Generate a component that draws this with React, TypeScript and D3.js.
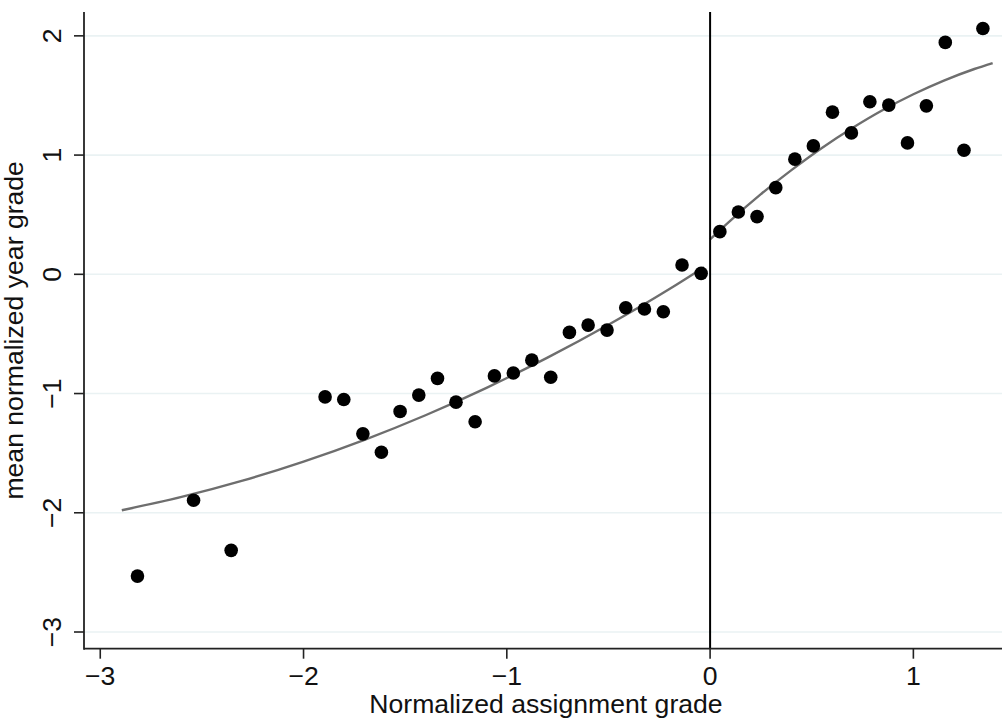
import React from 'react';
import * as d3 from 'd3';

// binned means (x = normalized assignment grade, y = mean normalized year grade)
const binX = [
  -2.817, -2.541, -2.356, -1.894, -1.802, -1.708, -1.617, -1.525, -1.433, -1.341,
  -1.25, -1.156, -1.061, -0.968, -0.877, -0.784, -0.692, -0.6, -0.507, -0.415,
  -0.323, -0.23, -0.138, -0.044, 0.048, 0.139, 0.231, 0.323, 0.417, 0.508,
  0.602, 0.695, 0.786, 0.879, 0.971, 1.064, 1.157, 1.249, 1.342,
];
const binY = [
  -2.531, -1.895, -2.315, -1.028, -1.05, -1.338, -1.492, -1.15, -1.013, -0.873,
  -1.072, -1.237, -0.852, -0.828, -0.72, -0.863, -0.487, -0.426, -0.468, -0.28,
  -0.291, -0.314, 0.078, 0.008, 0.358, 0.523, 0.484, 0.727, 0.966, 1.077,
  1.36, 1.186, 1.447, 1.419, 1.102, 1.413, 1.945, 1.041, 2.062,
];

// fitted curve, left of cutoff
const fitLeftX = [-2.894, -2.6, -2.3, -2.0, -1.7, -1.4, -1.1, -0.8, -0.5, -0.2, -0.03];
const fitLeftY = [-1.979, -1.867, -1.731, -1.571, -1.388, -1.182, -0.952, -0.699, -0.423, -0.123, 0.06];

// fitted curve, right of cutoff
const fitRightX = [0, 0.1, 0.25, 0.4, 0.55, 0.7, 0.85, 1.0, 1.15, 1.3, 1.39];
const fitRightY = [0.294, 0.451, 0.672, 0.874, 1.06, 1.227, 1.378, 1.51, 1.625, 1.722, 1.772];

const xTicks = [-3, -2, -1, 0, 1];
const yTicks = [-3, -2, -1, 0, 1, 2];
const cutoff = 0;

const xTitle = 'Normalized assignment grade';
const yTitle = 'mean normalized year grade';

const W = 1002, H = 722;
const FONT = '"Liberation Sans", Arial, Helvetica, sans-serif';
const FS = 26.6;

const fmt = (t: number) => (t < 0 ? '\u2212' + Math.abs(t) : String(t));

const App: React.FC = () => {
  const x = d3.scaleLinear().domain([-3.08, 1.436]).range([84, 1002]);
  const y = d3.scaleLinear().domain([-3.14, 2.2]).range([648.7, 12]);
  const [x0, x1] = x.range();
  const [yBot, yTop] = y.range();

  const line = d3.line<[number, number]>()
    .x((d) => x(d[0]))
    .y((d) => y(d[1]))
    .curve(d3.curveMonotoneX);

  const left = fitLeftX.map((v, i) => [v, fitLeftY[i]] as [number, number]);
  const right = fitRightX.map((v, i) => [v, fitRightY[i]] as [number, number]);

  const midY = (yBot + yTop) / 2;

  return (
    <svg width={W} height={H} style={{ position: 'absolute', left: 0, top: 0, background: '#fff' }}
         fontFamily={FONT}>
      {/* gridlines */}
      {yTicks.map((t) => (
        <line key={'g' + t} x1={x0} x2={x1} y1={y(t)} y2={y(t)} stroke="#eaf2f3" strokeWidth={1.6} />
      ))}

      {/* fit lines */}
      <path d={line(left) ?? ''} fill="none" stroke="#6e6e6e" strokeWidth={2.4} />
      <path d={line(right) ?? ''} fill="none" stroke="#6e6e6e" strokeWidth={2.4} />

      {/* cutoff */}
      <line x1={x(cutoff)} x2={x(cutoff)} y1={yTop} y2={yBot} stroke="#000" strokeWidth={2} />

      {/* binned points */}
      {binX.map((v, i) => (
        <circle key={i} cx={x(v)} cy={y(binY[i])} r={6.8} fill="#000" />
      ))}

      {/* axes */}
      <line x1={x0} x2={x0} y1={yTop} y2={yBot + 1} stroke="#222" strokeWidth={1.8} />
      <line x1={x0} x2={x1} y1={yBot} y2={yBot} stroke="#222" strokeWidth={1.8} />

      {yTicks.map((t) => (
        <g key={'y' + t}>
          <line x1={x0 - 10} x2={x0} y1={y(t)} y2={y(t)} stroke="#222" strokeWidth={1.6} />
          <text x={61} y={y(t)} fontSize={FS} textAnchor="middle" fill="#111"
                transform={`rotate(-90, 61, ${y(t)})`}>
            {fmt(t)}
          </text>
        </g>
      ))}

      {xTicks.map((t) => (
        <g key={'x' + t}>
          <line x1={x(t)} x2={x(t)} y1={yBot} y2={yBot + 10} stroke="#222" strokeWidth={1.6} />
          <text x={x(t)} y={684.5} fontSize={FS} textAnchor="middle" fill="#111">
            {fmt(t)}
          </text>
        </g>
      ))}

      {/* titles */}
      <text x={546} y={712.8} fontSize={FS} textAnchor="middle" fill="#111">{xTitle}</text>
      <text x={23.5} y={midY} fontSize={FS} textAnchor="middle" fill="#111"
            transform={`rotate(-90, 23.5, ${midY})`}>{yTitle}</text>
    </svg>
  );
};

export default App;
